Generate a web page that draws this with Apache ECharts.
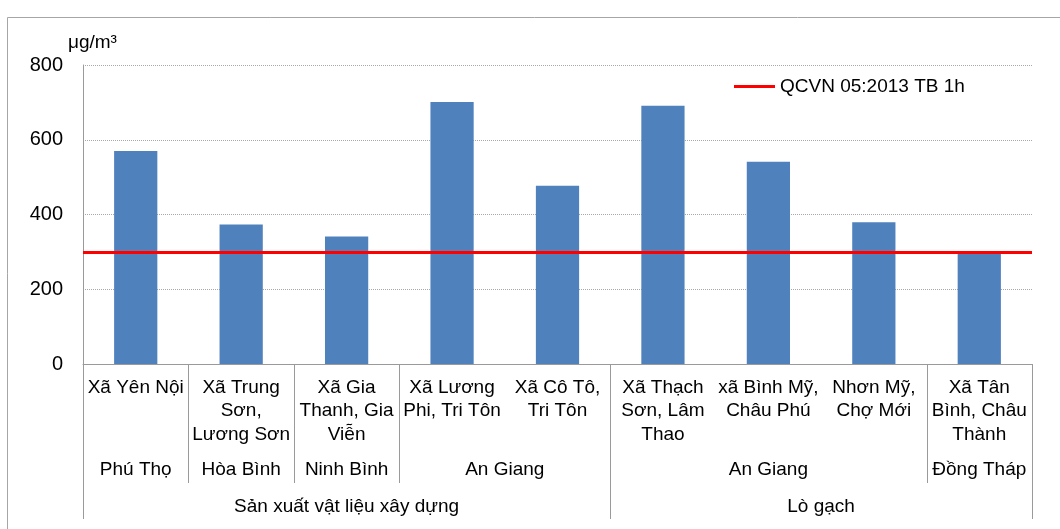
<!DOCTYPE html>
<html>
<head>
<meta charset="utf-8">
<script src="https://cdn.jsdelivr.net/npm/echarts@6/dist/echarts.min.js"></script>
<style>
  html, body { margin: 0; padding: 0; background: #fff; }
  #chart { width: 1060px; height: 529px; }
</style>
</head>
<body>
<div id="chart"></div>
<script>
// Monitoring sites (first category level), with their line breaks
const siteNames = [
  'Xã Yên Nội',
  'Xã Trung\nSơn,\nLương Sơn',
  'Xã Gia\nThanh, Gia\nViễn',
  'Xã Lương\nPhi, Tri Tôn',
  'Xã Cô Tô,\nTri Tôn',
  'Xã Thạch\nSơn, Lâm\nThao',
  'xã Bình Mỹ,\nChâu Phú',
  'Nhơn Mỹ,\nChợ Mới',
  'Xã Tân\nBình, Châu\nThành'
];
// Measured concentrations, µg/m³
const concentrations = [570, 373, 341, 701, 477, 691, 541, 379, 300];

// Province (second level) and sector (third level) groups, with category spans
const provinceNames = ['Phú Thọ', 'Hòa Bình', 'Ninh Bình', 'An Giang', 'An Giang', 'Đồng Tháp'];
const provinceSpans = [1, 1, 1, 2, 3, 1];
const sectorNames = ['Sản xuất vật liệu xây dựng', 'Lò gạch'];
const sectorSpans = [5, 4];

// Value axis ticks
const yMin = 0, yMax = 800, yStep = 200;

// Regulatory 1-hour limit
const limitName = 'QCVN 05:2013 TB 1h';
const limitValue = 300;
const unitText = 'μg/m³';

const FONT = '"Liberation Sans", Arial, sans-serif';
const GRAY = '#9a9a9a';

const chart = echarts.init(document.getElementById('chart'), null, { renderer: 'canvas' });

chart.setOption({
  animation: false,
  backgroundColor: '#fff',
  textStyle: { fontFamily: FONT },
  grid: { left: 83, right: 28, top: 65, bottom: 165, containLabel: false },
  legend: {
    left: 734,
    top: 77,
    padding: 0,
    itemWidth: 41,
    itemHeight: 3,
    data: [{ name: limitName, icon: 'rect' }],
    textStyle: { fontSize: 19, color: '#000', fontFamily: FONT },
    selectedMode: false
  },
  xAxis: {
    type: 'category',
    data: siteNames,
    boundaryGap: true,
    axisLine: { show: true, lineStyle: { color: GRAY, width: 1 } },
    axisTick: { show: false },
    axisLabel: {
      interval: 0,
      margin: 12,
      fontSize: 19,
      lineHeight: 23.5,
      color: '#000',
      fontFamily: FONT,
      align: 'center'
    }
  },
  yAxis: {
    type: 'value',
    min: yMin,
    max: yMax,
    interval: yStep,
    axisLine: { show: true, lineStyle: { color: GRAY, width: 1 } },
    axisTick: { show: false },
    axisLabel: { fontSize: 20, color: '#000', margin: 20, fontFamily: FONT },
    splitLine: { show: true, lineStyle: { color: '#a8a8a8', type: 'dotted', width: 1 } }
  },
  series: [
    {
      type: 'bar',
      name: 'Nồng độ',
      data: concentrations,
      barWidth: '41%',
      itemStyle: { color: '#4F81BD' },
      z: 2
    },
    {
      type: 'line',
      name: limitName,
      data: [],
      color: '#FF0000',
      lineStyle: { color: '#FF0000', width: 3 },
      itemStyle: { color: '#FF0000' },
      markLine: {
        silent: true,
        symbol: ['none', 'none'],
        label: { show: false },
        lineStyle: { color: '#FF0000', width: 3, type: 'solid' },
        data: [{ yAxis: limitValue }]
      },
      z: 5
    }
  ]
});

// Multi-level category axis: separators and group labels placed from the axis scale
function buildAxisDecor() {
  const c0 = chart.convertToPixel({ xAxisIndex: 0 }, 0);
  const c1 = chart.convertToPixel({ xAxisIndex: 0 }, 1);
  const band = c1 - c0;
  const boundary = i => c0 - band / 2 + i * band;
  const axisY = chart.convertToPixel({ yAxisIndex: 0 }, 0);
  const crisp = v => Math.round(v) + 0.5;

  const elements = [];
  const vline = (x, yEnd) => elements.push({
    type: 'line',
    silent: true,
    shape: { x1: crisp(x), y1: axisY, x2: crisp(x), y2: yEnd },
    style: { stroke: GRAY, lineWidth: 1 }
  });
  const label = (text, x, y) => elements.push({
    type: 'text',
    silent: true,
    x: x, y: y,
    style: {
      text: text, align: 'center', verticalAlign: 'middle',
      fontSize: 19, fontFamily: FONT, fill: '#000'
    }
  });

  // province level
  let idx = 0;
  vline(boundary(0), axisY + 119);
  provinceNames.forEach((name, k) => {
    const start = idx, end = idx + provinceSpans[k];
    label(name, (boundary(start) + boundary(end)) / 2, axisY + 106);
    vline(boundary(end), axisY + 119);
    idx = end;
  });

  // sector level
  idx = 0;
  vline(boundary(0), axisY + 155);
  sectorNames.forEach((name, k) => {
    const start = idx, end = idx + sectorSpans[k];
    label(name, (boundary(start) + boundary(end)) / 2, axisY + 143);
    vline(boundary(end), axisY + 155);
    idx = end;
  });

  // unit label above the value axis
  elements.push({
    type: 'text', silent: true, x: 68, y: 43,
    style: { text: unitText, align: 'left', verticalAlign: 'middle', fontSize: 19, fontFamily: FONT, fill: '#000' }
  });

  // outer chart frame
  elements.push({
    type: 'rect', silent: true,
    shape: { x: 7.5, y: 17.5, width: 1100, height: 600 },
    style: { fill: 'none', stroke: '#a6a6a6', lineWidth: 1 }
  });

  chart.setOption({ graphic: elements });
}

buildAxisDecor();
</script>
</body>
</html>
